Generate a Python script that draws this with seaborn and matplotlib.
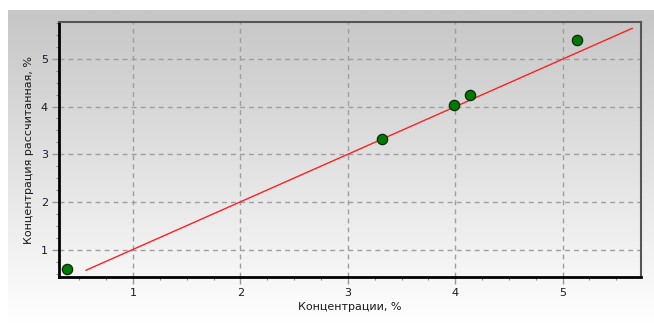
import numpy as np
import pandas as pd
import matplotlib
matplotlib.use("Agg")
import matplotlib.pyplot as plt
from matplotlib.colors import LinearSegmentedColormap
from matplotlib.ticker import MultipleLocator
import seaborn as sns

# data
conc_actual = [0.38, 3.32, 3.99, 4.14, 5.13]
conc_calc = [0.60, 3.32, 4.03, 4.25, 5.39]
fit_x = [0.56, 5.65]
fit_y = [0.57, 5.64]
x_ticks = [1, 2, 3, 4, 5]
y_ticks = [1, 2, 3, 4, 5]
x_label = "Концентрации, %"
y_label = "Концентрация рассчитанная, %"

sns.set_style("white")
plt.rcParams['font.family'] = ['DejaVu Sans']

W, H = 654, 323
fig = plt.figure(figsize=(W / 100, H / 100), dpi=100)
fig.patch.set_facecolor("white")

# gradient background panel
bg = fig.add_axes([8 / W, 0, 1 - 8 / W, (H - 10) / H])
cmap = LinearSegmentedColormap.from_list("g", ["#c6c6c6", "#e2e2e2", "#ffffff"])
grad = np.linspace(0, 1, 256).reshape(-1, 1)
bg.imshow(grad, aspect="auto", cmap=cmap, extent=[0, 1, 0, 1], origin="upper")
bg.set_axis_off()
bg.set_zorder(-5)

ax = fig.add_axes([59 / W, 1 - 277 / H, (641 - 59) / W, (277 - 22) / H])
ax.set_facecolor("none")

df_pts = pd.DataFrame({"x": conc_actual, "y": conc_calc})
df_fit = pd.DataFrame({"x": fit_x, "y": fit_y})

sns.lineplot(data=df_fit, x="x", y="y", ax=ax, color="#ff2020", lw=1.0, zorder=3)
sns.scatterplot(data=df_pts, x="x", y="y", ax=ax, s=55, color="#007a00",
                edgecolor="#0a2a0a", linewidth=0.9, zorder=4)

ax.set_xlim(0.31, 5.73)
ax.set_ylim(0.43, 5.77)
ax.set_xticks(x_ticks)
ax.set_yticks(y_ticks)
ax.set_xticklabels([str(t) for t in x_ticks])
ax.set_yticklabels([str(t) for t in y_ticks])
ax.xaxis.set_minor_locator(MultipleLocator(0.25))
ax.yaxis.set_minor_locator(MultipleLocator(0.25))

ax.grid(True, which="major", color="#9e9e9e", linestyle=(0, (3.5, 3)), linewidth=1.0)
ax.set_axisbelow(True)

ax.tick_params(which="major", direction="out", length=5, width=1, color="#999999",
               labelsize=8, labelcolor="#1a1a2a", pad=3)
ax.tick_params(which="minor", direction="out", length=2.5, width=0.8, color="#888888")
ax.tick_params(axis="both", which="both", bottom=True, left=True)

for side in ["left", "bottom"]:
    ax.spines[side].set_color("black")
    ax.spines[side].set_linewidth(2.0)
for side in ["top", "right"]:
    ax.spines[side].set_color("#555555")
    ax.spines[side].set_linewidth(1.5)

ax.set_xlabel(x_label, fontsize=8, color="#1a1a1a", labelpad=3)
ax.set_ylabel(y_label, fontsize=8, color="#1a1a1a", labelpad=5)

fig.savefig("out.png", dpi=100)
